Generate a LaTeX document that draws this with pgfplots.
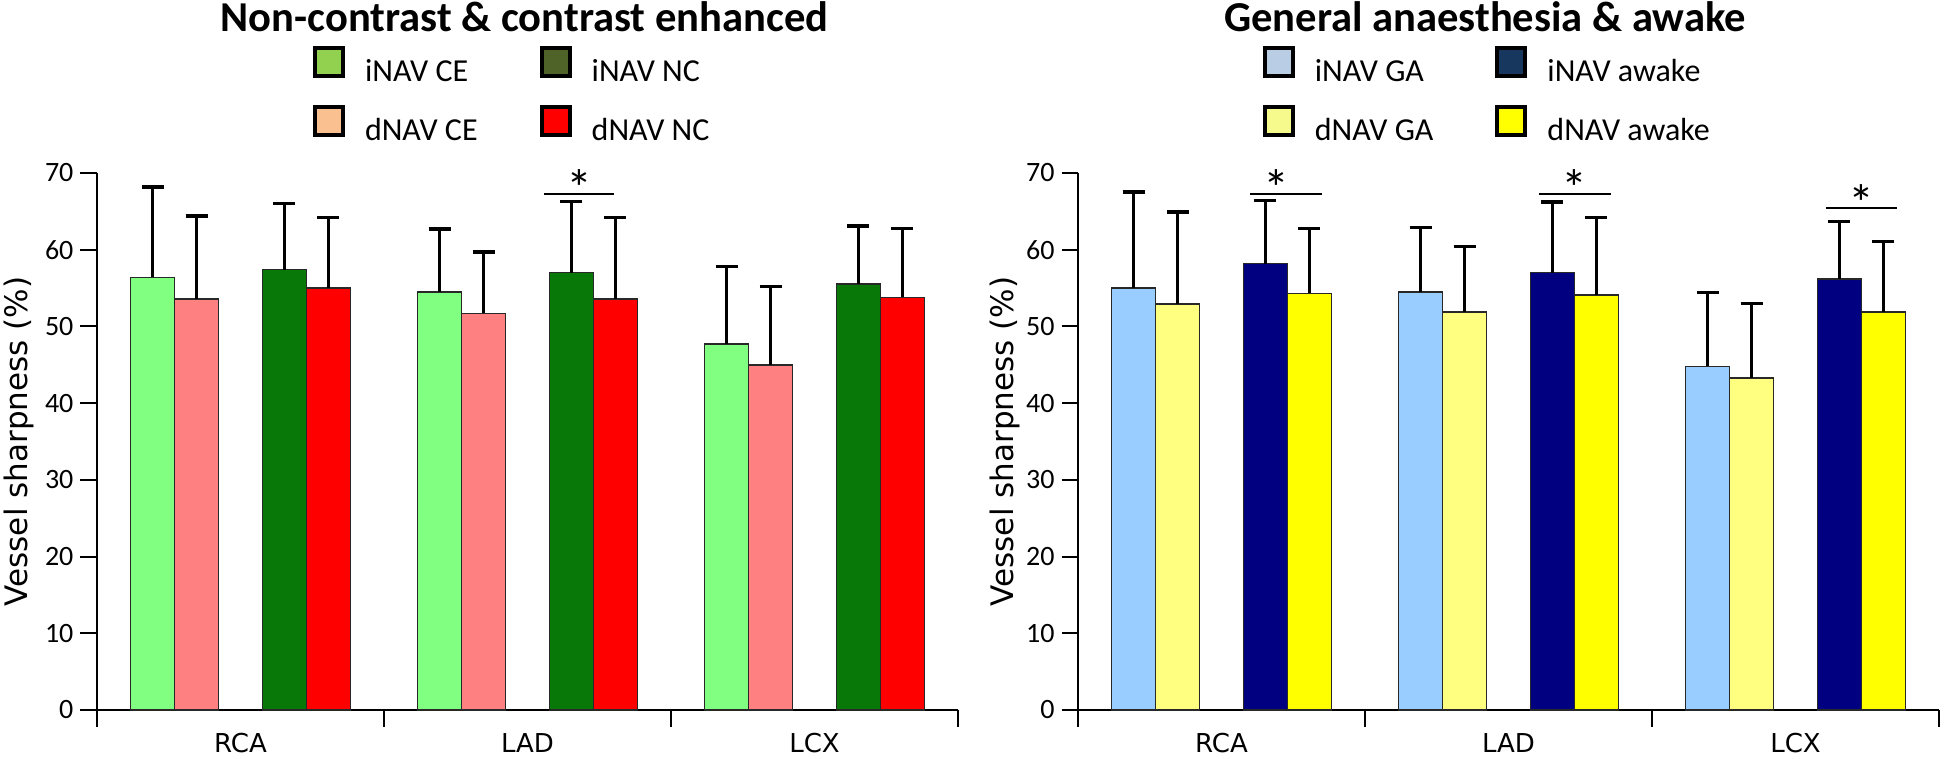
\documentclass[border=0pt]{standalone}
\usepackage{fontspec}
\setmainfont{Carlito}
\newfontfamily\dejavu{DejaVu Sans}
\usepackage{pgfplots}
\usepackage{pgfplotstable}
\pgfplotsset{compat=1.18}

\definecolor{bA}{RGB}{128,255,128}
\definecolor{bB}{RGB}{255,128,128}
\definecolor{bC}{RGB}{8,120,8}
\definecolor{bD}{RGB}{255,0,0}
\definecolor{lA}{RGB}{146,208,80}
\definecolor{lB}{RGB}{250,192,144}
\definecolor{lC}{RGB}{79,98,40}
\definecolor{lD}{RGB}{255,0,0}
\definecolor{rA}{RGB}{153,204,255}
\definecolor{rB}{RGB}{255,255,128}
\definecolor{rC}{RGB}{0,0,128}
\definecolor{rD}{RGB}{255,255,0}
\definecolor{mA}{RGB}{185,205,229}
\definecolor{mB}{RGB}{246,250,140}
\definecolor{mC}{RGB}{23,55,94}
\definecolor{mD}{RGB}{255,255,0}
\definecolor{outl}{RGB}{40,40,40}

\pgfplotstableread{
x a ea b eb c ec d ed
0 56.4 11.8 53.6 10.8 57.4 8.6 55.0 9.2
1 54.5 8.2 51.7 8.0 57.0 9.3 53.6 10.6
2 47.7 10.1 45.0 10.2 55.5 7.6 53.8 9.0
}\dataL

\pgfplotstableread{
x a ea b eb c ec d ed
0 55.0 12.5 52.9 12.0 58.2 8.2 54.3 8.5
1 54.5 8.4 51.9 8.5 57.0 9.2 54.1 10.1
2 44.8 9.6 43.3 9.7 56.2 7.5 51.9 9.2
}\dataR

\pgfplotsset{
  sq/.style={legend image code/.code={\draw[line width=2pt, draw=black, fill=#1] (0pt,-2.2pt) rectangle (14pt,11.8pt);}},
  barp/.style={ybar, bar width=0.153, bar shift=0pt, fill=#1, draw=outl, line width=0.75pt, forget plot,
    error bars/y dir=plus, error bars/y explicit,
    error bars/error bar style={line width=1.7pt, black},
    error bars/error mark=-, error bars/error mark options={rotate=90, line width=1.7pt, mark size=5.5pt, black}},
  mybase/.style={
    width=430.5pt, height=268.5pt, scale only axis,
    xmin=-0.5, xmax=2.5, ymin=0, ymax=70, enlargelimits=false,
    axis lines=left, axis line style={-, line width=1pt, black},
    ytick={0,10,...,70},
    xtick={-0.5,0.5,1.5,2.5}, xticklabels={RCA,LAD,LCX,{}},
    tick align=outside, major tick length=8.25pt,
    tick style={line width=1pt, black},
    /pgf/number format/assume math mode=true,
    yticklabel style={font=\fontsize{14pt}{16pt}\selectfont},
    xticklabel style={font=\dejavu\fontsize{13pt}{15pt}\selectfont, xshift=71.75pt},
    ylabel={Vessel sharpness (\%)},
    ylabel style={font=\dejavu\fontsize{15.5pt}{18pt}\selectfont, anchor=base, inner sep=0pt},
    legend columns=2, legend cell align=left,
    legend style={anchor=north west, draw=none, fill=none, inner sep=0pt, outer sep=0pt,
      font=\fontsize{16pt}{19pt}\selectfont,
      /tikz/column sep=10pt, /tikz/every even column/.append style={column sep=31pt},
      /tikz/row sep=10.5pt, nodes={inner sep=0pt}},
    clip=false,
  }
}

\begin{document}
\begin{tikzpicture}
\path[use as bounding box] (-48.5pt,-24.5pt) rectangle (924.5pt,355pt);

\begin{axis}[mybase, at={(0pt,0pt)}, anchor=south west,
  ylabel style={at={(axis description cs:-0.0813,0.5)}},
  legend style={at={(0.2509,1.2365)}}]
\addlegendimage{sq=lA}\addlegendentry{iNAV CE}
\addlegendimage{sq=lC}\addlegendentry{iNAV NC}
\addlegendimage{sq=lB}\addlegendentry{dNAV CE}
\addlegendimage{sq=lD}\addlegendentry{dNAV NC}
\addplot[barp=bA] table[x expr=\thisrow{x}-0.306, y=a, y error=ea] {\dataL};
\addplot[barp=bB] table[x expr=\thisrow{x}-0.153, y=b, y error=eb] {\dataL};
\addplot[barp=bC] table[x expr=\thisrow{x}+0.153, y=c, y error=ec] {\dataL};
\addplot[barp=bD] table[x expr=\thisrow{x}+0.306, y=d, y error=ed] {\dataL};
\draw[line width=1pt] (axis cs:1.057,67.3) -- (axis cs:1.30,67.3);
\node[font=\fontsize{26pt}{28pt}\selectfont, anchor=base, inner sep=0pt, yshift=-6.5pt] at (axis cs:1.18,67.3) {*};
\end{axis}

\begin{axis}[mybase, at={(490.5pt,0pt)}, anchor=south west,
  ylabel style={at={(axis description cs:-0.0754,0.5)}},
  legend style={at={(0.2146,1.2365)}}]
\addlegendimage{sq=mA}\addlegendentry{iNAV GA}
\addlegendimage{sq=mC}\addlegendentry{iNAV awake}
\addlegendimage{sq=mB}\addlegendentry{dNAV GA}
\addlegendimage{sq=mD}\addlegendentry{dNAV awake}
\addplot[barp=rA] table[x expr=\thisrow{x}-0.306, y=a, y error=ea] {\dataR};
\addplot[barp=rB] table[x expr=\thisrow{x}-0.153, y=b, y error=eb] {\dataR};
\addplot[barp=rC] table[x expr=\thisrow{x}+0.153, y=c, y error=ec] {\dataR};
\addplot[barp=rD] table[x expr=\thisrow{x}+0.306, y=d, y error=ed] {\dataR};
\draw[line width=1pt] (axis cs:0.10,67.3) -- (axis cs:0.35,67.3);
\node[font=\fontsize{26pt}{28pt}\selectfont, anchor=base, inner sep=0pt, yshift=-6.5pt] at (axis cs:0.19,67.3) {*};
\draw[line width=1pt] (axis cs:1.106,67.3) -- (axis cs:1.357,67.3);
\node[font=\fontsize{26pt}{28pt}\selectfont, anchor=base, inner sep=0pt, yshift=-6.5pt] at (axis cs:1.23,67.3) {*};
\draw[line width=1pt] (axis cs:2.106,65.4) -- (axis cs:2.354,65.4);
\node[font=\fontsize{26pt}{28pt}\selectfont, anchor=base, inner sep=0pt, yshift=-6.5pt] at (axis cs:2.23,65.4) {*};
\end{axis}

\node[font=\bfseries\fontsize{21.3pt}{24pt}\selectfont, anchor=base] at (213.75pt,339pt) {Non-contrast \& contrast enhanced};
\node[font=\bfseries\fontsize{21.3pt}{24pt}\selectfont, anchor=base] at (694pt,339pt) {General anaesthesia \& awake};
\end{tikzpicture}
\end{document}
